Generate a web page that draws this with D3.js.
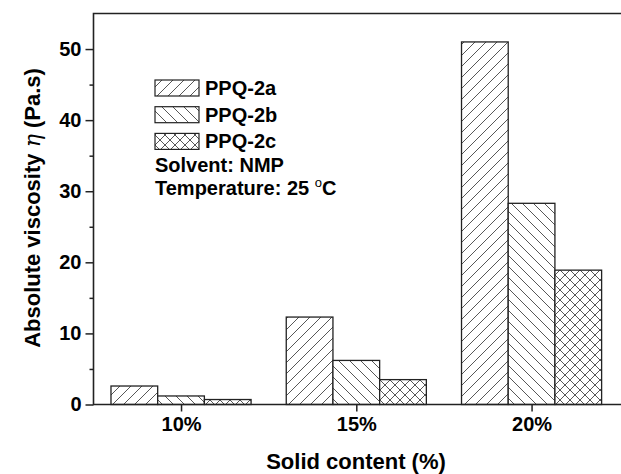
<!DOCTYPE html>
<html>
<head>
<meta charset="utf-8">
<script src="https://cdn.jsdelivr.net/npm/d3@7"></script>
<style>
body { margin: 0; background: #fff; }
text { font-family: "Liberation Sans", Arial, sans-serif; font-weight: bold; fill: #000; }
</style>
</head>
<body>
<svg id="chart" width="621" height="474"></svg>
<script>
// data
var categories = ["10%", "15%", "20%"];
var seriesNames = ["PPQ-2a", "PPQ-2b", "PPQ-2c"];
var ppq2a = [2.6, 12.3, 51.0];
var ppq2b = [1.2, 6.2, 28.3];
var ppq2c = [0.7, 3.5, 18.9];
var yTicks = [0, 10, 20, 30, 40, 50];
var yMinorTicks = [5, 15, 25, 35, 45];

var margin = {left: 93.5, top: 13.5, bottom: 404.5};
var plotRight = 625;

var svg = d3.select("#chart");

// hatch patterns
var defs = svg.append("defs");
var makePattern = function(id, paths, size) {
    var p = defs.append("pattern")
        .attr("id", id)
        .attr("patternUnits", "userSpaceOnUse")
        .attr("width", size)
        .attr("height", size);
    p.append("rect").attr("width", size).attr("height", size).attr("fill", "#fff");
    paths.forEach(function(d) {
        p.append("path")
            .attr("d", d)
            .attr("stroke", "#444")
            .attr("stroke-width", 0.9)
            .attr("fill", "none");
    });
};
makePattern("hatchA", ["M-1,12 L12,-1", "M-2,1 L1,-2", "M10,13 L13,10"], 11);
makePattern("hatchB", ["M-1,-1 L12,12", "M-2,10 L1,13", "M10,-2 L13,1"], 11);
makePattern("hatchC", ["M0,0 L10,10", "M0,10 L10,0"], 10);
var fills = ["url(#hatchA)", "url(#hatchB)", "url(#hatchC)"];

// x: category index, groups centred on 1, 2, 3
var x = d3.scaleLinear()
    .domain([0.5, 3.5])
    .range([181.7 - 87.5 - 0.8, 531.7 + 87.5]);
var y = d3.scaleLinear()
    .domain([0, 55])
    .range([margin.bottom, margin.top]);

var barW = 46.7;

var rows = [];
categories.forEach(function(c, i) {
    [ppq2a, ppq2b, ppq2c].forEach(function(s, j) {
        rows.push({cat: i + 1, k: j, v: s[i]});
    });
});

var g = svg.append("g").attr("id", "bars");
g.selectAll("rect")
    .data(rows)
    .enter()
    .append("rect")
    .attr("x", function(d) {
        return x(d.cat) - 1.5 * barW + d.k * barW;
    })
    .attr("y", function(d) {
        return y(d.v);
    })
    .attr("width", barW)
    .attr("height", function(d) {
        return y(0) - y(d.v);
    })
    .attr("fill", function(d) {
        return fills[d.k];
    })
    .attr("stroke", "#222")
    .attr("stroke-width", 1.3);

// axes
var yAxis = d3.axisLeft(y)
    .tickValues(yTicks)
    .tickSize(8)
    .tickPadding(4)
    .tickFormat(d3.format("d"));
var yMinor = d3.axisLeft(y)
    .tickValues(yMinorTicks)
    .tickSize(4)
    .tickFormat("");
var xAxis = d3.axisBottom(x)
    .tickValues([1, 2, 3])
    .tickSize(7)
    .tickPadding(5)
    .tickFormat(function(d) {
        return categories[d - 1];
    });

var ga = svg.append("g").attr("transform", "translate(" + margin.left + ",0)").call(yAxis);
svg.append("g").attr("transform", "translate(" + margin.left + ",0)").call(yMinor);
var gx = svg.append("g").attr("transform", "translate(0," + margin.bottom + ")").call(xAxis);

svg.selectAll(".domain").remove();
svg.selectAll(".tick line").attr("stroke", "#222").attr("stroke-width", 1.5);
ga.selectAll("text").style("font-size", "20px").attr("font-family", null);
gx.selectAll("text").style("font-size", "20px").attr("font-family", null);

// frame: left, bottom, top
svg.append("path")
    .attr("d", "M" + plotRight + "," + margin.top + " L" + margin.left + "," + margin.top +
        " L" + margin.left + "," + margin.bottom + " L" + plotRight + "," + margin.bottom)
    .attr("fill", "none")
    .attr("stroke", "#222")
    .attr("stroke-width", 1.6);

// axis titles
svg.append("text")
    .attr("x", 356)
    .attr("y", 469)
    .attr("text-anchor", "middle")
    .style("font-size", "22px")
    .text("Solid content (%)");

var yt = svg.append("text")
    .attr("transform", "translate(40,208) rotate(-90)")
    .attr("text-anchor", "middle")
    .style("font-size", "22px");
yt.append("tspan").text("Absolute viscosity ");
yt.append("tspan").attr("font-style", "italic").attr("font-weight", "normal")
    .attr("font-family", "'DejaVu Serif', serif").text("\u03B7");
yt.append("tspan").text(" (Pa.s)");

// legend
var leg = svg.append("g").attr("id", "legend");
seriesNames.forEach(function(name, i) {
    var ly = 80 + i * 26.7;
    leg.append("rect")
        .attr("x", 155)
        .attr("y", ly)
        .attr("width", 44)
        .attr("height", 16)
        .attr("fill", fills[i])
        .attr("stroke", "#222")
        .attr("stroke-width", 1.2);
    leg.append("text")
        .attr("x", 205)
        .attr("y", ly + 15)
        .style("font-size", "20px")
        .text(name);
});
leg.append("text")
    .attr("x", 155)
    .attr("y", 172)
    .style("font-size", "20px")
    .text("Solvent: NMP");
var temp = leg.append("text")
    .attr("x", 155)
    .attr("y", 195)
    .style("font-size", "20px");
temp.append("tspan").text("Temperature: 25 ");
temp.append("tspan").attr("dy", -8).style("font-size", "13px").attr("font-weight", "normal").text("o");
temp.append("tspan").attr("dy", 8).text("C");
</script>
</body>
</html>
